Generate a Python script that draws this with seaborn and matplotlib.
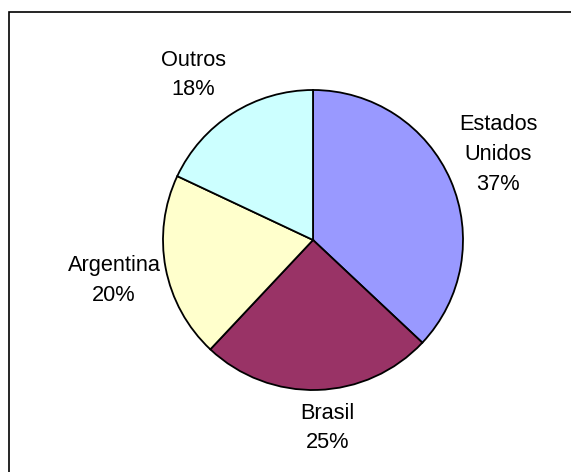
import numpy as np
import matplotlib
matplotlib.use("Agg")
import matplotlib.pyplot as plt
from matplotlib.patches import Rectangle
import seaborn as sns

# Share of each origin
categories = ["Estados\nUnidos", "Brasil", "Argentina", "Outros"]
shares = [37, 25, 20, 18]
colors = ["#9999FF", "#993366", "#FFFFCC", "#CCFFFF"]
# label placement: distance from centre (in radii) and angular nudge (deg)
label_radius = [1.36, 1.257, 1.353, 1.36]
label_nudge = [1.3, 2.5, 0.6, 3.6]

sns.set_theme(style="white")
plt.rcParams["font.family"] = ["Liberation Sans", "DejaVu Sans"]

W, H, DPI = 571, 472, 100
fig = plt.figure(figsize=(W / DPI, H / DPI), dpi=DPI)
fig.patch.set_facecolor("white")
ax = fig.add_axes([0, 0, 1, 1])

wedges, _ = ax.pie(
    shares,
    colors=colors,
    startangle=90,
    counterclock=False,
    radius=1.0,
    wedgeprops=dict(edgecolor="black", linewidth=1.3),
)

# Labels with percentage, centred outside each wedge
total = float(sum(shares))
for w, name, val, r, d in zip(wedges, categories, shares, label_radius, label_nudge):
    mid = np.deg2rad((w.theta1 + w.theta2) / 2.0 + d)
    x, y = r * np.cos(mid), r * np.sin(mid)
    ax.text(x, y, f"{name}\n{val / total * 100:.0f}%", ha="center", va="center",
            fontsize=15.7, color="black", linespacing=1.55)

# Pie centre at (313, 240) px, radius 150 px
cx, cy, rad = 313, 240, 150
ax.set_xlim(-cx / rad, (W - cx) / rad)
ax.set_ylim(-(H - cy) / rad, cy / rad)
ax.set_aspect("auto")
ax.axis("off")

# Outer chart border
fig.patches.append(Rectangle((9 / W, -0.2), 1.5, 1.2 - 12 / H, transform=fig.transFigure,
                             fill=False, edgecolor="black", linewidth=1.2, clip_on=False))

fig.savefig("out.png", dpi=DPI)
